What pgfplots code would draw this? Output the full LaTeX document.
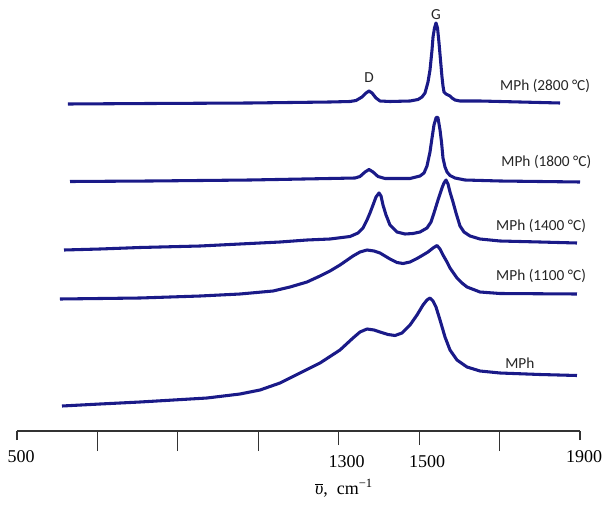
\documentclass[border=0pt]{standalone}
\usepackage{pgfplots}
\pgfplotsset{compat=1.18}
\usepackage{fontspec}
\setmainfont{Liberation Serif}
\newfontfamily\calibri{Carlito}
\definecolor{spec}{RGB}{26,26,136}

\begin{document}
\begin{tikzpicture}
\useasboundingbox (-12.75pt,-54.75pt) rectangle (441.75pt,323.25pt);
\begin{axis}[
  at={(0,0)}, anchor=south west,
  width=422.25pt, height=323.25pt, scale only axis,
  xmin=500, xmax=1900, ymin=69, ymax=500,
  axis y line=none, axis x line*=bottom,
  tick align=outside, clip=false,
  x axis line style={line width=0.9pt, draw=black!80},
  tick style={line width=0.9pt, draw=black!80},
  xtick={1300,1500}, xticklabels={1300,1500},
  major tick length=10.5pt,
  minor xtick={700,900,1100,1700}, minor tick length=15pt,
  extra x ticks={500,1900}, extra x tick labels={500,1900},
  extra x tick style={major tick length=6.75pt, xticklabel style={xshift=-3pt}},
  xticklabel style={font=\fontsize{13.5}{15}\selectfont, yshift=-4pt, xshift=6pt,
    /pgf/number format/assume math mode=true},
  sp/.style={spec, line width=2.3pt, line join=round, mark=none},
]
% MPh (2800 C)
\addplot[sp] coordinates {(626.8,396) (830.7,396.5) (1079.4,397) (1278.3,398) (1328.1,398.5)
 (1343.0,399.5) (1357.9,403) (1367.9,407) (1375.3,409) (1382.8,407) (1392.7,402)
 (1402.7,399) (1427.5,398.5) (1477.3,399) (1497.2,400.5) (1507.1,403) (1514.6,407)
 (1522.0,418) (1527.0,430) (1532.0,450) (1534.5,463) (1538.2,472) (1541.9,477)
 (1545.7,472) (1549.4,457) (1553.1,440) (1556.8,423) (1559.3,414) (1561.8,408)
 (1566.8,406) (1571.8,405) (1576.7,404) (1581.7,402) (1589.2,400) (1601.6,399)
 (1651.3,399) (1750.8,398) (1850.3,397)};
% MPh (1800 C)
\addplot[sp] coordinates {(631.8,318.5) (830.7,319) (1079.4,320) (1278.3,321.5) (1340.5,322)
 (1352.9,323.5) (1365.4,328) (1375.3,330.5) (1385.3,328) (1397.7,323.5) (1415.1,321.5)
 (1477.3,321.5) (1502.1,324) (1512.1,327) (1519.5,334) (1527.0,348) (1532.0,362)
 (1536.9,375) (1541.9,382) (1544.4,383) (1546.9,382) (1551.9,370) (1555.6,358)
 (1559.3,342) (1564.3,333) (1569.3,328) (1576.7,324.5) (1589.2,322) (1614.0,320)
 (1701.1,319) (1900,318)};
% MPh (1400 C)
\addplot[sp] coordinates {(616.9,250) (706.4,251) (805.9,252.5) (955.1,254) (1054.5,256)
 (1154.0,258) (1221.1,260) (1278.3,261) (1328.1,263.5) (1348.0,267) (1360.4,272)
 (1370.3,280) (1377.8,287) (1385.3,295) (1392.7,303) (1400.2,307) (1405.2,304)
 (1410.1,295) (1417.6,285) (1427.5,275) (1444.9,268) (1464.8,266) (1484.7,266.5)
 (1502.1,268) (1519.5,272) (1529.5,278) (1536.9,287) (1546.9,300) (1556.8,312)
 (1561.8,317) (1566.8,320) (1571.8,316) (1576.7,308) (1584.2,298) (1591.7,287)
 (1601.6,274) (1611.5,268) (1626.5,264) (1651.3,261) (1701.1,259) (1800.5,258)
 (1892.5,257)};
% MPh (1100 C)
\addplot[sp] coordinates {(606.9,201) (706.4,201.5) (805.9,202) (955.1,204) (1054.5,206)
 (1136.6,209) (1178.9,213) (1221.1,218) (1253.5,224) (1278.3,229) (1303.2,235)
 (1335.5,244) (1352.9,248) (1370.3,250) (1387.7,249) (1402.7,247) (1427.5,241)
 (1444.9,237.5) (1459.9,236.5) (1477.3,238) (1494.7,241.5) (1509.6,245) (1522.0,248)
 (1534.5,252) (1544.4,254.5) (1551.9,251) (1559.3,245) (1569.3,238) (1576.7,232)
 (1594.1,222) (1606.6,217) (1619.0,213) (1651.3,208) (1701.1,206.5) (1892.5,206)};
% MPh
\addplot[sp] coordinates {(611.9,94) (706.4,96) (805.9,98) (972.5,102) (1054.5,106)
 (1104.3,110) (1154.0,117) (1203.7,127) (1253.5,137) (1303.2,150) (1335.5,162)
 (1352.9,168) (1370.3,171) (1387.7,170) (1402.7,168) (1422.6,165.5) (1440.0,164.5)
 (1457.4,167) (1477.3,175) (1494.7,185) (1509.6,195) (1519.5,200) (1527.0,202)
 (1534.5,199) (1541.9,193) (1551.9,180) (1564.3,163) (1576.7,150) (1594.1,140)
 (1619.0,133) (1651.3,129) (1701.1,127) (1800.5,125.5) (1892.5,124.5)};

\begin{scope}[font=\calibri\fontsize{11.5}{13}\selectfont, text=black!85]
\node at (axis cs:1541.9,485) {G};
\node at (axis cs:1375.3,422) {D};
\node[anchor=west, inner sep=0pt] at (axis cs:1701,414) {MPh (2800 °C)};
\node[anchor=west, inner sep=0pt] at (axis cs:1704,338) {MPh (1800 °C)};
\node[anchor=west, inner sep=0pt] at (axis cs:1691,274) {MPh (1400 °C)};
\node[anchor=west, inner sep=0pt] at (axis cs:1691,224) {MPh (1100 °C)};
\node[anchor=west, inner sep=0pt] at (axis cs:1713.5,137) {MPh};
\end{scope}
\node[font=\fontsize{13.5}{15}\selectfont] at (axis cs:1313,12)
  {$\overline{\mbox{\itshape υ}}$,\ \ cm\textsuperscript{−1}};
\end{axis}
\end{tikzpicture}
\end{document}
